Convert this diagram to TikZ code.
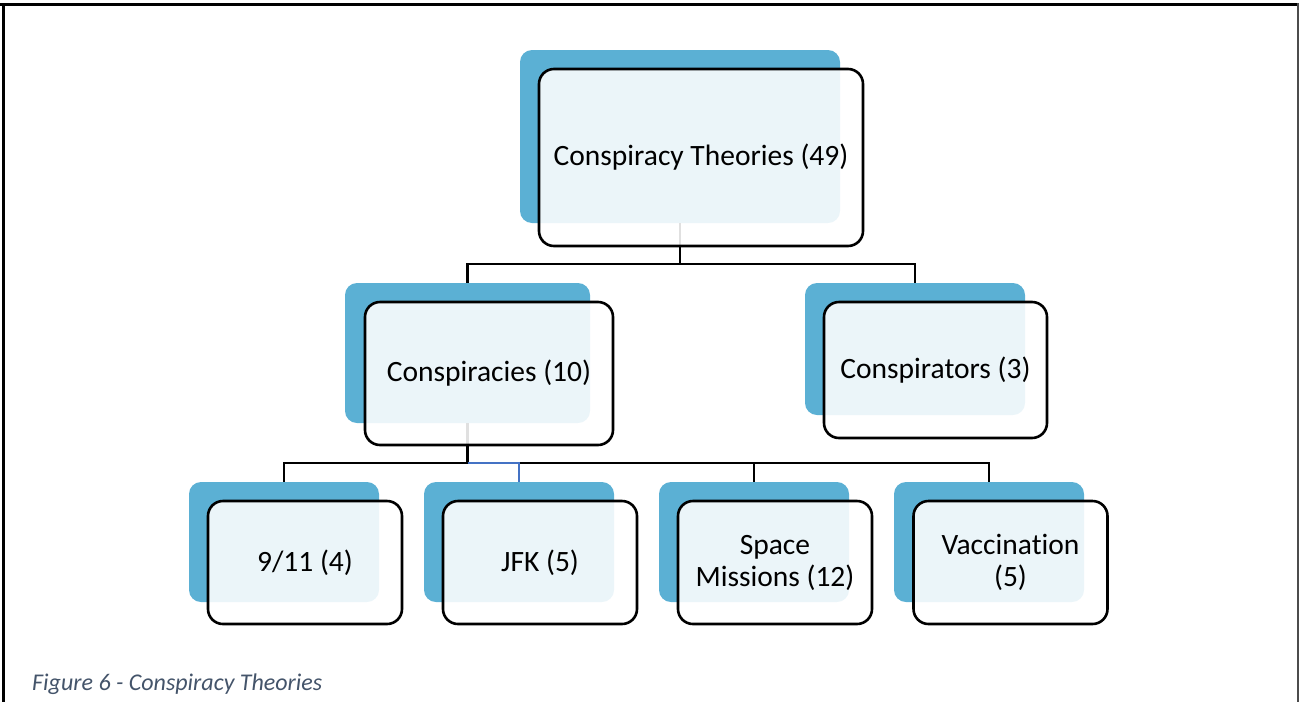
\documentclass[tikz,border=0pt]{standalone}
\usepackage{fontspec}
\setmainfont[Ligatures=NoCommon]{Carlito}
\definecolor{accent}{RGB}{91,176,212}
\definecolor{captiongray}{RGB}{68,84,106}
\definecolor{selblue}{RGB}{68,114,196}
\tikzset{
  bluebox/.style={fill=accent, draw=none, rounded corners=12pt, inner sep=0pt},
  frontbox/.style={draw=black, line width=2.6pt, fill=white, fill opacity=0.88,
    text opacity=1, rounded corners=15pt, inner sep=0pt, align=center,
    font=\fontsize{29.5}{32}\selectfont},
  conn/.style={draw=black, line width=2.6pt},
}
\begin{document}
\begin{tikzpicture}[x=1pt, y=-1pt]
  \useasboundingbox (0,0) rectangle (1299,702);
  % page frame
  \draw[line width=3pt] (0,4.5) -- (1299,4.5);
  \draw[line width=3pt] (3.5,3) -- (3.5,702);
  \draw[line width=2pt, black!70] (1297.5,3) -- (1297.5,702);

  % coloured back plates
  \node[bluebox, minimum width=320pt, minimum height=173pt] (b0) at (680,136.5) {};
  \node[bluebox, minimum width=245pt, minimum height=140pt] (b1) at (467.5,353) {};
  \node[bluebox, minimum width=220pt, minimum height=132pt] (b2) at (915,349) {};
  \node[bluebox, minimum width=190pt, minimum height=120pt] (b3) at (284,542) {};
  \node[bluebox, minimum width=190pt, minimum height=120pt] (b4) at (519,542) {};
  \node[bluebox, minimum width=190pt, minimum height=120pt] (b5) at (754,542) {};
  \node[bluebox, minimum width=190pt, minimum height=120pt] (b6) at (989,542) {};

  % tree connectors
  \draw[conn] (b0.south) -- (b0.south |- 0,264) -| (b1.north);
  \draw[conn] (b0.south |- 0,264) -| (b2.north);
  \draw[conn] (b1.south) -- (b1.south |- 0,463) -| (b3.north);
  \draw[conn] (b1.south |- 0,463) -| (b5.north);
  \draw[conn] (b1.south |- 0,463) -| (b6.north);
  \draw[conn, draw=selblue] (b1.south |- 0,463) -| (b4.north);

  % labelled front boxes
  \node[frontbox, minimum width=324pt, minimum height=177pt] (f0) at (701,157.5) {Conspiracy Theories (49)};
  \node[frontbox, minimum width=248pt, minimum height=143pt] (f1) at (489,373.5) {Conspiracies (10)};
  \node[frontbox, minimum width=223pt, minimum height=136pt] (f2) at (935.5,370) {Conspirators (3)};
  \node[frontbox, minimum width=194pt, minimum height=123pt] (f3) at (305,562.5) {9/11 (4)};
  \node[frontbox, minimum width=194pt, minimum height=123pt] (f4) at (540,562.5) {JFK (5)};
  \node[frontbox, minimum width=194pt, minimum height=123pt] (f5) at (775,562.5) {Space\\Missions (12)};
  \node[frontbox, minimum width=194pt, minimum height=123pt] (f6) at (1010.5,562.5) {Vaccination\\(5)};

  % caption
  \node[anchor=west, inner sep=0pt, text=captiongray, font=\fontsize{24}{28}\selectfont\itshape] (cap) at (32,684) {Figure 6 - Conspiracy Theories};
\end{tikzpicture}
\end{document}
